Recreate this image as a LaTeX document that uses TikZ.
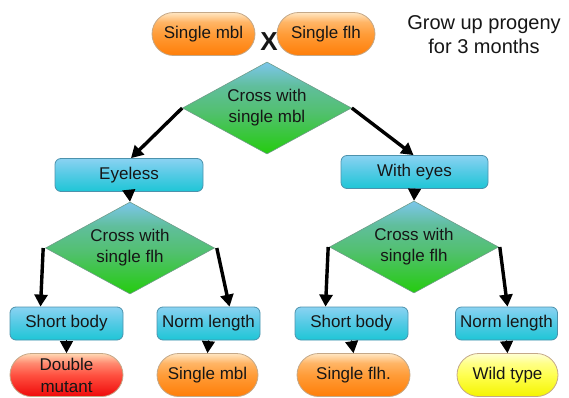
\documentclass[tikz,border=0pt]{standalone}
\usepackage{fontspec}
\setmainfont{Liberation Sans}
\usetikzlibrary{shapes.geometric,shapes.misc,arrows.meta,calc}

\definecolor{ink}{HTML}{161616}
% orange pills
\definecolor{orT}{HTML}{FFE6C2}
\definecolor{orL}{HTML}{FFB566}
\definecolor{orM}{HTML}{FF9C38}
\definecolor{orB}{HTML}{FF7E08}
% red pill
\definecolor{rdT}{HTML}{FFD9B4}
\definecolor{rdL}{HTML}{FF8A70}
\definecolor{rdM}{HTML}{FF5040}
\definecolor{rdB}{HTML}{EE0A0A}
% yellow pill
\definecolor{ylT}{HTML}{FFFFD4}
\definecolor{ylL}{HTML}{FFFF88}
\definecolor{ylM}{HTML}{FFFF50}
\definecolor{ylB}{HTML}{F4F400}
% cyan boxes
\definecolor{cyT}{HTML}{8AD2F2}
\definecolor{cyM}{HTML}{52CAE4}
\definecolor{cyB}{HTML}{1EC6D6}
% diamonds
\definecolor{dmT}{HTML}{7CC6EC}
\definecolor{dmL}{HTML}{60BE9C}
\definecolor{dmM}{HTML}{52C070}
\definecolor{dmB}{HTML}{24CC0E}
% outlines
\definecolor{pillline}{HTML}{C4A888}
\definecolor{boxline}{HTML}{4C92AC}
\definecolor{dmline}{HTML}{6E9C88}

\pgfdeclareverticalshading{orangeshade}{100bp}{color(0bp)=(orB); color(25bp)=(orB); color(50bp)=(orM); color(64bp)=(orL); color(75bp)=(orT); color(100bp)=(orT)}
\pgfdeclareverticalshading{redshade}{100bp}{color(0bp)=(rdB); color(25bp)=(rdB); color(50bp)=(rdM); color(64bp)=(rdL); color(75bp)=(rdT); color(100bp)=(rdT)}
\pgfdeclareverticalshading{yellowshade}{100bp}{color(0bp)=(ylB); color(25bp)=(ylB); color(50bp)=(ylM); color(64bp)=(ylL); color(75bp)=(ylT); color(100bp)=(ylT)}
\pgfdeclareverticalshading{cyanshade}{100bp}{color(0bp)=(cyB); color(25bp)=(cyB); color(50bp)=(cyM); color(75bp)=(cyT); color(100bp)=(cyT)}
\pgfdeclareverticalshading{diamondshade}{100bp}{color(0bp)=(dmB); color(25bp)=(dmB); color(48bp)=(dmM); color(62bp)=(dmL); color(75bp)=(dmT); color(100bp)=(dmT)}

\begin{document}
\begin{tikzpicture}[x=1pt,y=-1pt,
  font=\fontsize{17}{21}\selectfont, text=ink,
  pill/.style={rounded rectangle, draw=pillline, line width=0.8pt,
    minimum height=43pt, inner sep=0pt, align=center, shading=orangeshade},
  redpill/.style={pill, shading=redshade},
  yellowpill/.style={pill, shading=yellowshade},
  stagebox/.style={rectangle, rounded corners=6pt, draw=boxline, line width=0.8pt,
    minimum height=33pt, inner sep=0pt, shading=cyanshade},
  crossing/.style={diamond, aspect=1.85, draw=dmline, line width=0.6pt,
    minimum width=169pt, minimum height=92pt, inner sep=0pt, align=center,
    shading=diamondshade},
  bigarrow/.style={draw=black, line width=3.4pt,
    -{Triangle[width=13pt,length=12pt]}},
  smalltip/.style={draw=black, line width=1pt,
    -{Triangle[width=13pt,length=12pt]}}]

\useasboundingbox (0,0) rectangle (569,398);

% parents
\node[pill, minimum width=103pt] (pmbl) at (203.5,34) {Single mbl};
\node[pill, minimum width=98pt]  (pflh) at (326,34) {Single flh};
\node[font=\fontsize{26}{26}\selectfont\bfseries, inner sep=0pt] (cross) at (269,42) {X};
\node[font=\fontsize{20}{24}\selectfont, align=center, inner sep=0pt] (note) at (484,35)
  {Grow up progeny\\for 3 months};

% first cross
\node[crossing] (c1) at (267,108) {Cross with\\single mbl};
\node[stagebox, minimum width=148pt] (eyeless) at (129,175) {Eyeless};
\node[stagebox, minimum width=147pt] (eyes) at (414.5,172) {With eyes};

% second crosses
\node[crossing] (c2) at (130,248) {Cross with\\single flh};
\node[crossing] (c3) at (414,247) {Cross with\\single flh};

% phenotypes
\node[stagebox, minimum width=113pt] (sb1) at (66.5,323.5) {Short body};
\node[stagebox, minimum width=103pt] (nl1) at (208.5,323.5) {Norm length};
\node[stagebox, minimum width=113pt] (sb2) at (351.5,323.5) {Short body};
\node[stagebox, minimum width=102pt] (nl2) at (506.5,323.5) {Norm length};

% genotypes
\node[redpill, minimum width=113pt, font=\fontsize{17}{22}\selectfont] (dm) at (66.5,375) {Double\\mutant};
\node[pill, minimum width=101pt] (sm) at (207.5,375) {Single mbl};
\node[pill, minimum width=113pt] (sf) at (353.5,375) {Single flh.};
\node[yellowpill, minimum width=101pt] (wt) at (507.5,375) {Wild type};

% thick branch arrows
\draw[bigarrow] (c1.west) -- ([xshift=2pt]eyeless.north);
\draw[bigarrow] (c1.east) -- ([xshift=-1pt]eyes.north);
\draw[bigarrow] ([xshift=-2pt]c2.west) -- ([xshift=-26pt]sb1.north);
\draw[bigarrow] ([xshift=2pt]c2.east) -- ([xshift=21pt]nl1.north);
\draw[bigarrow] ([xshift=-1pt]c3.west) -- ([xshift=-26pt]sb2.north);
\draw[bigarrow] ([xshift=1pt]c3.east) -- ([xshift=1pt]nl2.north);

% short connectors
\draw[smalltip] (eyeless.south) -- (c2.north);
\draw[smalltip] (eyes.south) -- (c3.north);
\draw[smalltip] (sb1.south) -- (dm.north);
\draw[smalltip] (nl1.south) -- (sm.north);
\draw[smalltip] (sb2.south) -- (sf.north);
\draw[smalltip] (nl2.south) -- (wt.north);
\end{tikzpicture}
\end{document}
